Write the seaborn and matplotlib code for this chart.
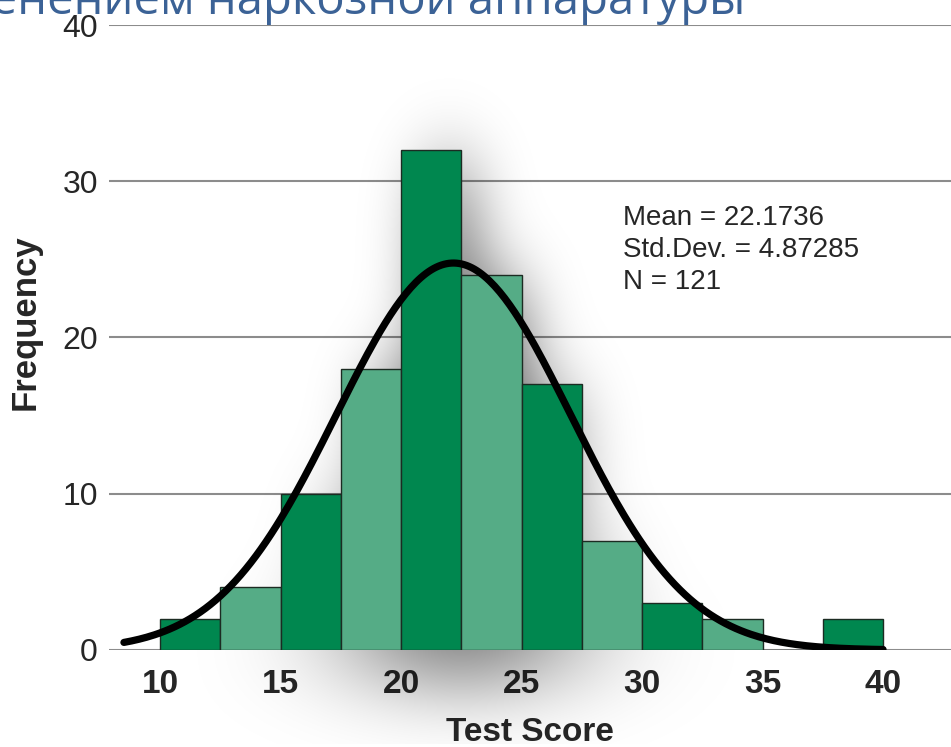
import numpy as np
import pandas as pd
import seaborn as sns
import matplotlib.pyplot as plt

# histogram data (bins of width 2.5 starting at 10)
bin_starts = [10, 12.5, 15, 17.5, 20, 22.5, 25, 27.5, 30, 32.5, 35, 37.5]
counts = [2, 4, 10, 18, 32, 24, 17, 7, 3, 2, 0, 2]
bar_colors = ["#00874F", "#55AC86", "#00874F", "#55AC86", "#00874F", "#55AC86",
              "#00874F", "#55AC86", "#00874F", "#55AC86", "#00874F", "#00874F"]
mean, std, n = 22.1736, 4.87285, 121
bin_width = 2.5
x_ticks = [10, 15, 20, 25, 30, 35, 40]
y_ticks = [0, 10, 20, 30, 40]

sns.set_style("white")
plt.rcParams["font.family"] = ["Liberation Sans", "DejaVu Sans"]

fig = plt.figure(figsize=(9.51, 7.47), dpi=100)
ax = fig.add_axes([0.1146, 0.1299, 0.8854, 0.8366])
xlim = (7.88, 42.82)

df = pd.DataFrame({"score": np.array(bin_starts) + bin_width / 2, "count": counts})
edges = list(bin_starts) + [bin_starts[-1] + bin_width]
sns.histplot(data=df, x="score", weights="count", bins=edges, ax=ax,
             edgecolor="#1c2b22", linewidth=1.0, alpha=1, zorder=3)
for patch, c in zip(ax.patches, bar_colors):
    patch.set_facecolor(c)

# soft drop shadow behind the bars (blurred bar mask, strongest near the centre)
gx = np.linspace(xlim[0], xlim[1], 350)
gy = np.linspace(-6, 40, 460)
XX, YY = np.meshgrid(gx, gy)
mask = np.zeros_like(XX)
for b, c in zip(bin_starts, counts):
    mask[(XX >= b + 0.6) & (XX < b + bin_width + 0.6) & (YY < c - 0.5) & (YY > -2.5)] = 1.0
def blur(a, sigma, axis):
    k = np.arange(-3 * sigma, 3 * sigma + 1)
    k = np.exp(-0.5 * (k / sigma) ** 2)
    k /= k.sum()
    return np.apply_along_axis(lambda r: np.convolve(r, k, mode="same"), axis, a)
sh = blur(blur(mask, 12, 1), 25, 0)
sh *= np.exp(-((XX - 22.5) / 5.5) ** 2 - ((YY - 14) / 25) ** 2)
rgba = np.zeros(sh.shape + (4,))
rgba[..., 3] = np.clip(sh * 0.65, 0, 1)
ax.imshow(rgba, extent=(gx[0], gx[-1], gy[0], gy[-1]), origin="lower",
          aspect="auto", zorder=2, clip_on=False, interpolation="bilinear")

# normal curve
xs = np.linspace(8.5, 40, 300)
ys = n * bin_width / (std * np.sqrt(2 * np.pi)) * np.exp(-0.5 * ((xs - mean) / std) ** 2)
sns.lineplot(x=xs, y=ys, ax=ax, color="black", linewidth=5.2, zorder=4)

for v in y_ticks:
    ax.axhline(v, color="#8c8c8c", linewidth=1.5, zorder=1)

ax.set_xlim(*xlim)
ax.set_ylim(0, 40)
ax.set_xticks(x_ticks)
ax.set_yticks(y_ticks)
ax.set_xticklabels([str(t) for t in x_ticks], fontsize=24, fontweight="bold")
ax.set_yticklabels([str(t) for t in y_ticks], fontsize=23)
ax.tick_params(axis="both", length=0)
ax.tick_params(axis="x", pad=14)
ax.tick_params(axis="y", pad=8)
for s in ax.spines.values():
    s.set_visible(False)

ax.set_xlabel("Test Score", fontsize=24, fontweight="bold", labelpad=12)
ax.set_ylabel("Frequency", fontsize=25, fontweight="bold")
ax.yaxis.set_label_coords(-0.08, 0.525)

fig.text(623 / 951, 1 - 205 / 747, f"Mean = {mean}\nStd.Dev. = {std}\nN = {n}",
         fontsize=20, va="top", ha="left", linespacing=1.3)

fig.text(745 / 951, 1 - 14 / 747, "с применением наркозной аппаратуры",
         family=["Open Sans", "DejaVu Sans"], fontsize=34, color="#3B6296",
         ha="right", va="baseline")

fig.savefig("out.png", dpi=100)
